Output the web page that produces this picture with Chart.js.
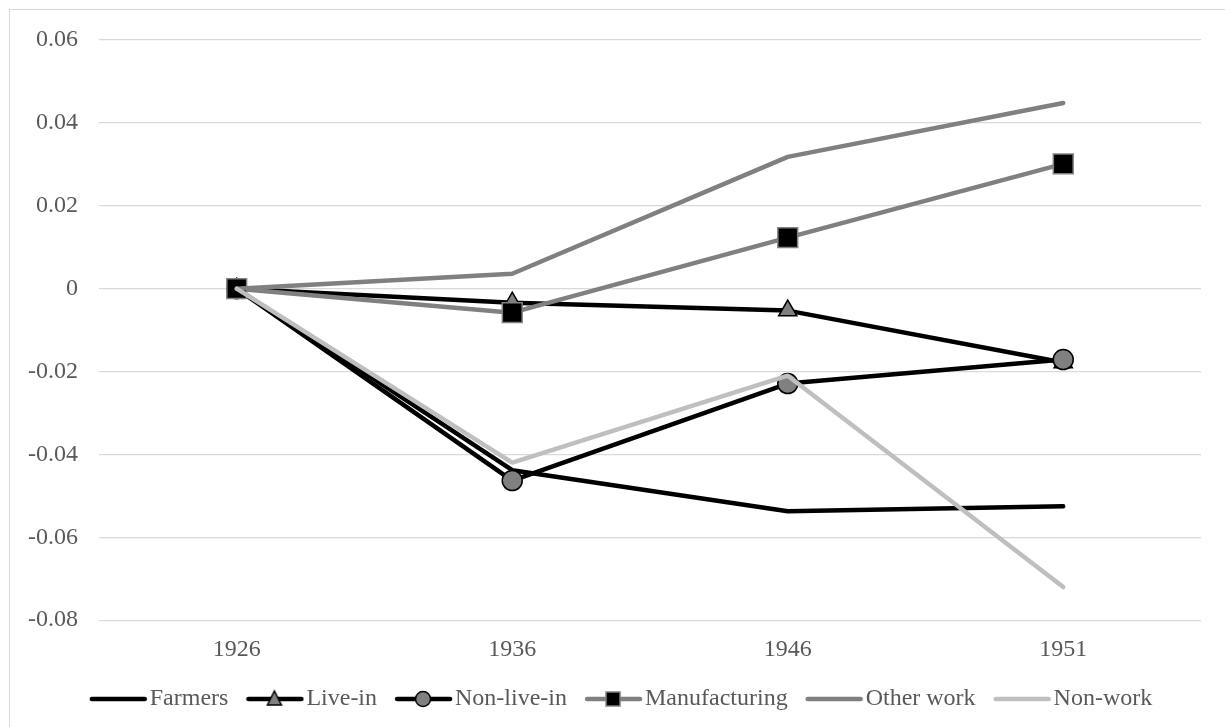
<!DOCTYPE html>
<html>
<head>
<meta charset="utf-8">
<script src="https://cdn.jsdelivr.net/npm/chart.js@4.4.1/dist/chart.umd.min.js"></script>
<style>
    html, body { margin: 0; padding: 0; background: #ffffff; overflow: hidden; }
    #frame { position: absolute; left: 9px; top: 9px; width: 1240px; height: 740px; border: 1px solid #d9d9d9; }
    #wrap { position: absolute; left: 0; top: 0; width: 1225px; height: 727px; }
</style>
</head>
<body>
<div id="frame"></div>
<div id="wrap"><canvas id="lineChart"></canvas></div>
<script>
"use strict";

// values
let years = ["1926", "1936", "1946", "1951"];
let farmers = [0, -0.0438, -0.0537, -0.0525];
let liveIn = [0, -0.0034, -0.0053, -0.0178];
let nonLiveIn = [0, -0.0463, -0.0229, -0.0171];
let manufacturing = [0, -0.0058, 0.0123, 0.0301];
let otherWork = [0, 0.0036, 0.0318, 0.0448];
let nonWork = [0, -0.0420, -0.0210, -0.0720];

let yTicks = [0.06, 0.04, 0.02, 0, -0.02, -0.04, -0.06, -0.08];

let fontFamily = "'Liberation Serif', 'Times New Roman', serif";

// small canvas used as the legend symbol: line with the marker in the middle
function LegendSymbol(color, marker, markerFill, markerBorder) {
    let c = document.createElement("canvas");
    c.width = 80;
    c.height = 24;
    let g = c.getContext("2d");
    let mid = 50;
    g.strokeStyle = color;
    g.lineWidth = 4.5;
    g.lineCap = "round";
    g.beginPath();
    g.moveTo(24, 12);
    g.lineTo(77, 12);
    g.stroke();
    g.fillStyle = markerFill;
    g.strokeStyle = markerBorder;
    g.lineWidth = 1.5;
    if (marker === "triangle") {
        g.beginPath();
        g.moveTo(mid, 4);
        g.lineTo(mid + 7, 18);
        g.lineTo(mid - 7, 18);
        g.closePath();
        g.fill();
        g.stroke();
    } else if (marker === "circle") {
        g.beginPath();
        g.arc(mid, 12, 7.5, 0, Math.PI * 2);
        g.fill();
        g.stroke();
    } else if (marker === "rect") {
        g.fillRect(mid - 7, 5, 14, 14);
        g.strokeRect(mid - 7, 5, 14, 14);
    }
    return c;
}

function MakeSeries(label, values, color, marker, markerFill, markerBorder, radius, order) {
    return {
        label: label,
        data: values,
        borderColor: color,
        backgroundColor: color,
        borderWidth: 4.5,
        borderCapStyle: "round",
        borderJoinStyle: "round",
        tension: 0,
        fill: false,
        order: order,
        pointStyle: marker || "circle",
        pointRadius: marker ? radius : 0,
        pointHoverRadius: marker ? radius : 0,
        pointBackgroundColor: markerFill,
        pointBorderColor: markerBorder,
        pointBorderWidth: 1.5,
        legendSymbol: LegendSymbol(color, marker, markerFill, markerBorder)
    };
}

let datasets = [
    MakeSeries("Farmers", farmers, "#000000", null, "#000000", "#000000", 0, 6),
    MakeSeries("Live-in", liveIn, "#000000", "triangle", "#808080", "#000000", 10.5, 5),
    MakeSeries("Non-live-in", nonLiveIn, "#000000", "circle", "#808080", "#000000", 10, 4),
    MakeSeries("Manufacturing", manufacturing, "#808080", "rect", "#000000", "#808080", 14, 3),
    MakeSeries("Other work", otherWork, "#808080", null, "#808080", "#808080", 0, 2),
    MakeSeries("Non-work", nonWork, "#bfbfbf", null, "#bfbfbf", "#bfbfbf", 0, 1)
];

// nudge the legend a little to the right, like in the original
let legendShift = {
    id: "legendShift",
    beforeDraw: function (chart) {
        if (chart.legend && !chart.legend._shifted) {
            chart.legend.left += 11;
            chart.legend.right += 11;
            chart.legend._shifted = true;
        }
    }
};

let ctx = document.getElementById("lineChart").getContext("2d");

window.lineChart = new Chart(ctx, {
    type: "line",
    data: {
        labels: years,
        datasets: datasets
    },
    plugins: [legendShift],
    options: {
        responsive: true,
        maintainAspectRatio: false,
        animation: false,
        layout: {
            padding: { left: 7, right: 24, top: 40, bottom: 6 }
        },
        plugins: {
            tooltip: { enabled: false },
            legend: {
                position: "bottom",
                labels: {
                    usePointStyle: true,
                    pointStyleWidth: 60,
                    boxHeight: 24,
                    padding: 6,
                    color: "#595959",
                    font: { family: fontFamily, size: 24 },
                    sort: (a, b) => a.datasetIndex - b.datasetIndex,
                    generateLabels: function (chart) {
                        return chart.data.datasets.map((ds, i) => ({
                            text: ds.label,
                            datasetIndex: i,
                            pointStyle: ds.legendSymbol,
                            fillStyle: ds.borderColor,
                            strokeStyle: ds.borderColor,
                            lineWidth: 0,
                            fontColor: "#595959",
                            hidden: false
                        }));
                    }
                }
            }
        },
        scales: {
            x: {
                offset: true,
                grid: { display: false },
                border: { display: false },
                afterFit: function (axis) {
                    axis.height += 10;  // a bit more room under the year labels
                },
                ticks: {
                    color: "#595959",
                    padding: 7,
                    font: { family: fontFamily, size: 24 }
                }
            },
            y: {
                min: -0.08,
                max: 0.06,
                afterBuildTicks: function (axis) {
                    axis.ticks = yTicks.map(v => ({ value: v }));
                },
                grid: {
                    color: "#d9d9d9",
                    lineWidth: 1.3,
                    drawTicks: false
                },
                border: { display: false },
                ticks: {
                    color: "#595959",
                    padding: 21,
                    font: { family: fontFamily, size: 24 },
                    callback: value => String(Number(value.toFixed(2)))
                }
            }
        }
    }
});
</script>
</body>
</html>
